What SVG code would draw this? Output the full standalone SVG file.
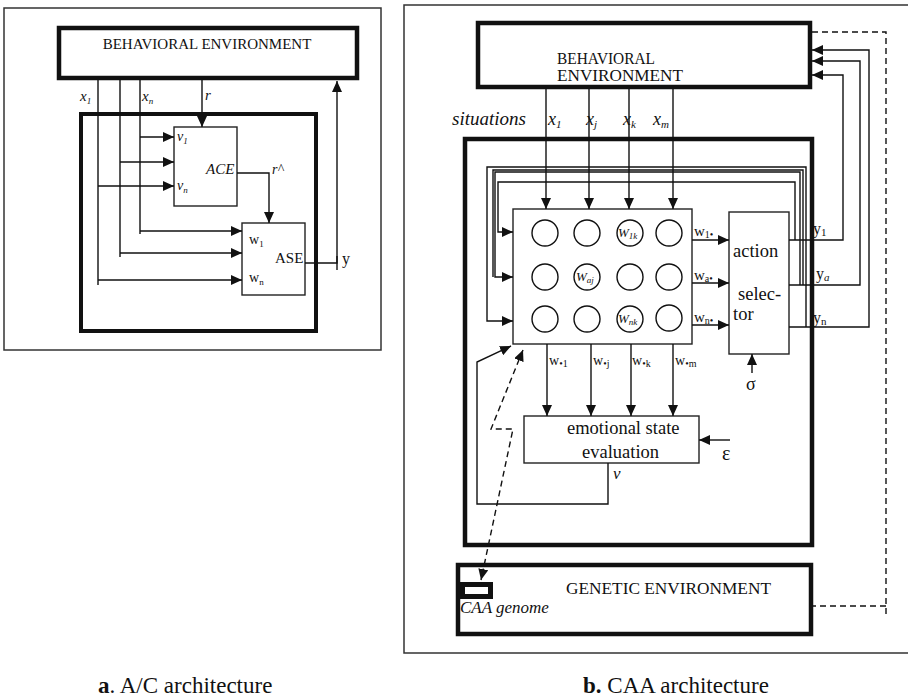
<svg xmlns="http://www.w3.org/2000/svg" width="910" height="697" viewBox="0 0 910 697">
<style>
.frame{fill:none;stroke:#333;stroke-width:1.5}
.thick{fill:#fff;stroke:#111;stroke-width:4.5}
.box{fill:#fff;stroke:#222;stroke-width:1.4}
.ln{fill:none;stroke:#111;stroke-width:1.4}
.dash{fill:none;stroke:#111;stroke-width:1.4;stroke-dasharray:6 4}
.arr{marker-end:url(#ah)}
text{font-family:"Liberation Serif","Times New Roman",serif;fill:#111}
.it{font-style:italic}
.c{fill:#fff;stroke:#111;stroke-width:1.4}
</style>
<defs>
<marker id="ah" markerUnits="userSpaceOnUse" markerWidth="12" markerHeight="10" refX="11" refY="5" orient="auto">
<path d="M0,0 L11,5 L0,10 z" fill="#111"/>
</marker>
<marker id="ahs" markerUnits="userSpaceOnUse" markerWidth="12" markerHeight="10" refX="11" refY="5" orient="auto-start-reverse">
<path d="M0,0 L11,5 L0,10 z" fill="#111"/>
</marker>
</defs>

<!-- Part a -->
<rect class="frame" x="4" y="8" width="377" height="342"/>
<g id="a-inner"><rect x="81" y="114" width="235" height="217" style="fill:none;stroke:#111;stroke-width:4"/></g>
<g id="a-env">
<rect class="thick" x="59" y="28" width="298" height="50"/>
<text x="207" y="49" font-size="15" text-anchor="middle">BEHAVIORAL ENVIRONMENT</text>
</g>
<g id="a-ace">
<rect class="box" x="174" y="127" width="63" height="79"/>
<text class="it" x="206" y="174" font-size="15">ACE</text>
<text class="it" x="177" y="141" font-size="14">v<tspan font-size="9" dy="3">1</tspan></text>
<text class="it" x="177" y="190" font-size="14">v<tspan font-size="9" dy="3">n</tspan></text>
</g>
<g id="a-ase">
<rect class="box" x="242" y="223" width="63" height="72"/>
<text x="275" y="263" font-size="15">ASE</text>
<text x="249" y="244" font-size="14">w<tspan font-size="9" dy="3">1</tspan></text>
<text x="249" y="282" font-size="14">w<tspan font-size="9" dy="3">n</tspan></text>
</g>
<g id="a-connectors">
<path class="ln" d="M98,80 V285 M120,80 V257 M140,80 V234"/>
<path class="ln arr" d="M202,80 V127"/>
<path class="ln arr" d="M140,137 H174"/>
<path class="ln arr" d="M120,162 H174"/>
<path class="ln arr" d="M98,186 H174"/>
<path class="ln arr" d="M140,231 H242"/>
<path class="ln arr" d="M120,253 H242"/>
<path class="ln arr" d="M98,280 H242"/>
<path class="ln arr" d="M237,173 H269 V223"/>
<path class="ln arr" d="M305,263 H337 V81"/>
<path class="ln" d="M337,256 V270"/>
</g>
<g id="a-labels">
<text class="it" x="80" y="101" font-size="15">x<tspan font-size="9" dy="3">1</tspan></text>
<text class="it" x="142" y="101" font-size="15">x<tspan font-size="9" dy="3">n</tspan></text>
<text class="it" x="205" y="100" font-size="15">r</text>
<text class="it" x="272" y="174" font-size="14">r^</text>
<text x="342" y="264" font-size="16">y</text>
</g>
<text x="98" y="693" font-size="23"><tspan font-weight="bold">a</tspan>. A/C architecture</text>

<!-- Part b -->
<path class="frame" d="M908,5 H404 V653 H908"/>
<g id="b-inner"><rect x="465" y="139" width="347" height="406" style="fill:none;stroke:#111;stroke-width:4.5"/></g>
<g id="b-env">
<rect class="thick" x="478" y="23" width="332" height="64"/>
<text x="557" y="63.5" font-size="16.5" textLength="98" lengthAdjust="spacingAndGlyphs">BEHAVIORAL</text>
<text x="557" y="81" font-size="16.5" textLength="126" lengthAdjust="spacingAndGlyphs">ENVIRONMENT</text>
</g>
<g id="b-matrix">
<rect class="box" x="513" y="209" width="179" height="135"/>
<circle class="c" cx="545" cy="233" r="13"/><circle class="c" cx="587" cy="233" r="13"/><circle class="c" cx="630" cy="233" r="13"/><circle class="c" cx="669" cy="233" r="13"/>
<circle class="c" cx="545" cy="277" r="13"/><circle class="c" cx="587" cy="277" r="13"/><circle class="c" cx="630" cy="277" r="13"/><circle class="c" cx="669" cy="277" r="13"/>
<circle class="c" cx="545" cy="319" r="13"/><circle class="c" cx="587" cy="319" r="13"/><circle class="c" cx="630" cy="319" r="13"/><circle class="c" cx="669" cy="318" r="13"/>
<text class="it" x="618" y="237" font-size="13">W<tspan font-size="9" dy="2">1k</tspan></text>
<text class="it" x="576" y="281" font-size="13">W<tspan font-size="9" dy="2">aj</tspan></text>
<text class="it" x="618" y="323" font-size="13">W<tspan font-size="9" dy="2">nk</tspan></text>
</g>
<g id="b-selector">
<rect class="box" x="729" y="212" width="60" height="142"/>
<text x="733" y="257" font-size="18.5">action</text>
<text x="738" y="300" font-size="18.5">selec-</text>
<text x="733" y="320" font-size="18.5">tor</text>
</g>
<g id="b-emotion">
<rect class="box" x="524" y="416" width="175" height="47"/>
<text x="567" y="434" font-size="18.5">emotional state</text>
<text x="582" y="458" font-size="18.5">evaluation</text>
</g>
<g id="b-genetic">
<rect class="thick" x="458" y="565" width="353" height="69"/>
<text x="566" y="594" font-size="17.3">GENETIC ENVIRONMENT</text>
<rect x="456" y="582" width="37" height="17" fill="#111"/>
<rect x="465" y="587" width="23" height="7" fill="#fff"/>
<text class="it" x="460" y="613" font-size="17">CAA genome</text>
</g>
<g id="b-connectors">
<path class="ln arr" d="M546,89 V209"/>
<path class="ln arr" d="M589,89 V209"/>
<path class="ln arr" d="M629,89 V209"/>
<path class="ln arr" d="M673,89 V209"/>
<path class="ln arr" d="M692,240 H729"/>
<path class="ln arr" d="M692,283 H729"/>
<path class="ln arr" d="M692,325 H729"/>
<path class="ln arr" d="M752,373 V354"/>
<path class="ln arr" d="M789,240 H843 V75 H812"/>
<path class="ln arr" d="M789,285 H860 V61 H812"/>
<path class="ln arr" d="M789,327 H869 V50 H812"/>
<path class="ln arr" d="M795,240 V182 H498 V232 H513"/>
<path class="ln arr" d="M800,285 V172 H495 V277 H513"/>
<path class="ln" d="M803,285 V170 H493 V277"/>
<path class="ln arr" d="M806,327 V167 H487 V321 H513"/>
<path class="ln arr" d="M547,344 V416"/>
<path class="ln arr" d="M591,344 V416"/>
<path class="ln arr" d="M631,344 V416"/>
<path class="ln arr" d="M673,344 V416"/>
<path class="ln arr" d="M730,440 H699"/>
<path class="ln arr" d="M608,463 V504 H477 V362 L511,346"/>
<path class="dash" d="M523,350 L491,429 H513 L481,580" style="marker-start:url(#ahs);marker-end:url(#ahs)"/>
<path class="dash" d="M812,32 H886 V617 M886,606 H813"/>
</g>
<g id="b-labels">
<text class="it" x="452" y="125" font-size="19">situations</text>
<text class="it" x="548" y="125" font-size="18">x<tspan font-size="11" dy="3">1</tspan></text>
<text class="it" x="586" y="125" font-size="18">x<tspan font-size="11" dy="3">j</tspan></text>
<text class="it" x="623" y="125" font-size="18">x<tspan font-size="11" dy="3">k</tspan></text>
<text class="it" x="653" y="125" font-size="18">x<tspan font-size="11" dy="3">m</tspan></text>
<text x="694" y="236" font-size="15">w<tspan font-size="10" dy="2">1•</tspan></text>
<text x="694" y="280" font-size="15">w<tspan font-size="10" dy="2">a•</tspan></text>
<text x="694" y="322" font-size="15">w<tspan font-size="10" dy="2">n•</tspan></text>
<text x="549" y="365" font-size="14">w<tspan font-size="10" dy="2">•1</tspan></text>
<text x="593" y="365" font-size="14">w<tspan font-size="10" dy="2">•j</tspan></text>
<text x="632" y="365" font-size="14">w<tspan font-size="10" dy="2">•k</tspan></text>
<text x="675" y="365" font-size="14">w<tspan font-size="10" dy="2">•m</tspan></text>
<text x="813" y="234" font-size="16">y<tspan font-size="11" dy="2">1</tspan></text>
<text x="816" y="279" font-size="16">y<tspan class="it" font-size="11" dy="2">a</tspan></text>
<text x="813" y="323" font-size="16">y<tspan font-size="11" dy="2">n</tspan></text>
<text x="746" y="390" font-size="18">σ</text>
<text x="722" y="460" font-size="20">ε</text>
<text class="it" x="613" y="479" font-size="17">ν</text>
</g>
<text x="583" y="693" font-size="23"><tspan font-weight="bold">b.</tspan> CAA architecture</text>
</svg>
